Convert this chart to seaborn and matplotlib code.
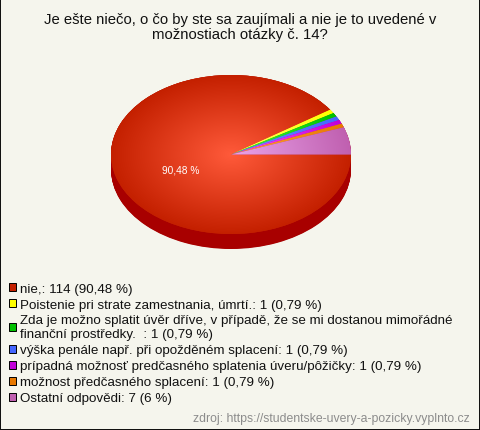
import matplotlib
matplotlib.use("Agg")
import matplotlib.pyplot as plt
from matplotlib.colors import LinearSegmentedColormap
from matplotlib.patches import Patch
import numpy as np
import seaborn as sns

title = "Je ešte niečo, o čo by ste sa zaujímali a nie je to uvedené v\nmožnostiach otázky č. 14?"
source = "zdroj: https://studentske-uvery-a-pozicky.vyplnto.cz"
counts = [114, 1, 1, 1, 1, 1, 7]
labels = [
    "nie,: 114 (90,48 %)",
    "Poistenie pri strate zamestnania, úmrtí.: 1 (0,79 %)",
    "Zda je možno splatit úvěr dříve, v případě, že se mi dostanou mimořádné\nfinanční prostředky.  : 1 (0,79 %)",
    "výška penále např. při opožděném splacení: 1 (0,79 %)",
    "prípadná možnosť predčasného splatenia úveru/pôžičky: 1 (0,79 %)",
    "možnost předčasného splacení: 1 (0,79 %)",
    "Ostatní odpovědi: 7 (6 %)",
]
base_colors = ["#c42000", "#ffff00", "#00c000", "#4466ff", "#c000d8", "#e87800", "#c060b0"]
light_colors = ["#ff5a3a", "#ffff70", "#40ff40", "#7090ff", "#ff50ff", "#ffa040", "#eaa4ea"]
side_color = "#a80000"
bg = "#f5f5ed"
W, H = 480, 431

sns.set_style("white")
plt.rcParams["font.family"] = ["Liberation Sans", "DejaVu Sans"]

fig = plt.figure(figsize=(W / 100, H / 100), dpi=100, facecolor=bg, edgecolor="#111111", linewidth=1.2)

# pie box in pixels: top face 240x159, side adds 15 below
depth = 15 / 79.5
ax = fig.add_axes([111 / W, 1 - 250 / H, 240 / W, 174 / H])

for off in np.linspace(0, depth, 31):
    ax.pie([1], colors=[side_color], center=(0, -off), wedgeprops={"linewidth": 0})

def pct_label(p):
    return f"{p:.2f} %".replace(".", ",") if p > 50 else ""

wedges, _, autotexts = ax.pie(
    counts,
    colors=sns.color_palette(base_colors),
    startangle=0,
    counterclock=False,
    autopct=pct_label,
    pctdistance=0.44,
    wedgeprops={"linewidth": 0},
    textprops={"color": "white", "fontsize": 7.3},
)

# radial shading, one image per slice
xx, yy = np.meshgrid(np.linspace(-1, 1, 400), np.linspace(-1, 1, 400))
rr = np.clip(np.hypot(xx, yy), 0, 1)
for wedge, c0, c1 in zip(wedges, light_colors, base_colors):
    cmap = LinearSegmentedColormap.from_list("shade", [c0, c1])
    im = ax.imshow(rr, extent=(-1, 1, -1, 1), origin="lower", cmap=cmap, vmin=0, vmax=1, aspect="auto", zorder=1.5)
    im.set_clip_path(wedge)
for t in autotexts:
    t.set_zorder(3)
    # reference label sits a little lower than the slice midline
    px, py = t.get_position()
    t.set_position((px, py - 0.06))

ax.set_aspect("auto")
ax.set_xlim(-1, 1)
ax.set_ylim(-1 - depth, 1)
ax.axis("off")

fig.text(240 / W, 1 - 27.5 / H, title, ha="center", va="center", fontsize=10.7, color="#111111", linespacing=1.1)

handles = [Patch(facecolor=c, edgecolor="black", linewidth=0.7) for c in base_colors]
fig.legend(
    handles, labels,
    loc="upper left", bbox_to_anchor=(9 / W, 1 - 283.5 / H), borderaxespad=0, borderpad=0,
    frameon=False, fontsize=9.6, handlelength=0.56, handleheight=0.56, handletextpad=0.3,
    labelspacing=0.3, labelcolor="#111111",
)

fig.text(470 / W, 1 - 419 / H, source, ha="right", va="center", fontsize=8.8, color="#8c8c8c")

fig.savefig("out.png", dpi=100)
